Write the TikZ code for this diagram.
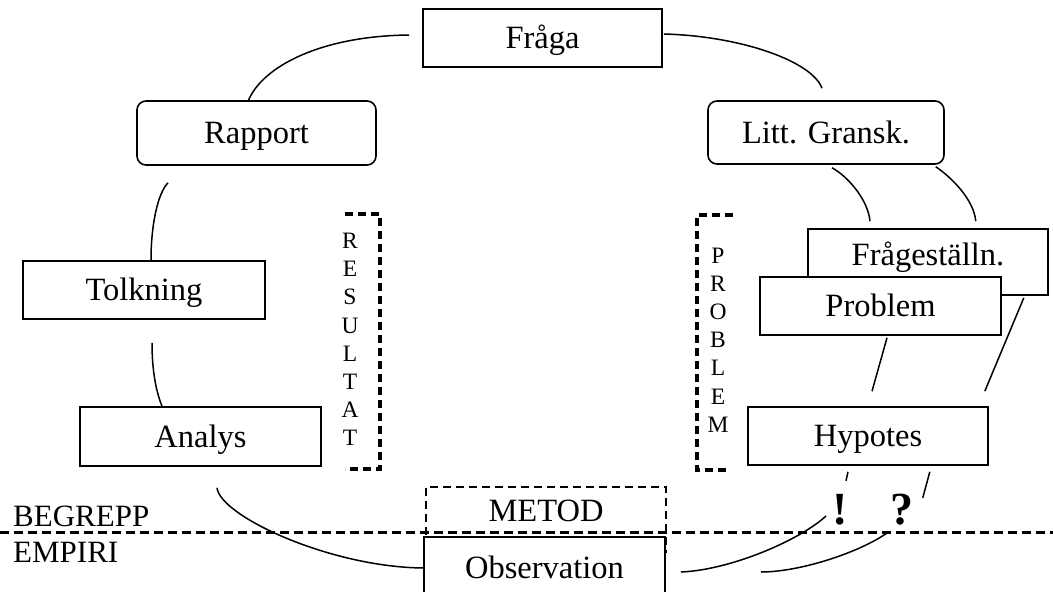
\documentclass[tikz,border=0pt]{standalone}
\usepackage{fontspec}
\setmainfont{Liberation Serif}
\begin{document}
\begin{tikzpicture}[x=1pt, y=-1pt,
  every node/.style={font=\fontsize{32.5}{36}\selectfont},
  ruta/.style={draw, line width=1.6pt, fill=white, inner sep=0pt, text height=24pt, text depth=3pt, minimum width=240pt, minimum height=58pt},
  rund/.style={ruta, rounded corners=9pt},
  streck/.style={line width=1.5pt},
  ram/.style={line width=3.4pt, dash pattern=on 8pt off 5pt},
  skiljelinje/.style={line width=2.8pt, dash pattern=on 9pt off 5pt},
  bokstav/.style={align=center, inner sep=0pt, font=\fontsize{23.5}{28.2}\selectfont},
  tecken/.style={inner sep=0pt, font=\bfseries\fontsize{46}{46}\selectfont}]
  \useasboundingbox (0,0) rectangle (1053,592);
  \clip (0,0) rectangle (1053,592);

  % Ramar
  \draw[ram] (345,214) -| (380,469) -- (345,469);
  \draw[ram] (733,215) -| (697,470) -- (730,470);
  \node[bokstav] (resultat) at (350,339.5) {R\\E\\S\\U\\L\\T\\A\\T};
  \node[bokstav] (problemord) at (718,340) {P\\R\\O\\B\\L\\E\\M};
  \node[draw, ram, line width=2.8pt, inner sep=0pt, minimum width=240pt, minimum height=65pt] (metod) at (546,519.5) {};
  \node[anchor=base, inner sep=0pt] (metodtxt) at (546,521) {METOD};

  % Begrepp / empiri
  \coordinate (skiljeV) at (0,532.7);
  \coordinate (skiljeH) at (1053,532.7);
  \draw[skiljelinje] (skiljeV) -- (skiljeH);
  \node[anchor=base west, inner sep=0pt, font=\fontsize{31}{33}\selectfont] (begrepp) at (13,526) {BEGREPP};
  \node[anchor=base west, inner sep=0pt, font=\fontsize{31}{33}\selectfont] (empiri) at (13,562) {EMPIRI};

  % Rutor
  \node[ruta, minimum width=239pt] (fraga) at (542.5,38) {Fråga};
  \node[rund, minimum width=239pt, minimum height=64pt] (rapport) at (256.5,133) {Rapport};
  \node[rund, minimum width=236pt, minimum height=63pt] (litt) at (826,132.5) {Litt. Gransk.};
  \node[ruta, minimum height=66pt, text depth=18pt] (fragest) at (928,262) {Frågeställn.};
  \node[ruta, minimum width=241pt] (problem) at (880.5,306) {Problem};
  \node[ruta] (hypotes) at (868,436) {Hypotes};
  \node[ruta, minimum width=242pt] (tolkning) at (144,290) {Tolkning};
  \node[ruta, minimum width=241pt, minimum height=59pt] (analys) at (200.5,436.5) {Analys};
  \node[ruta, minimum width=241pt, minimum height=62pt] (observation) at (544.5,568) {Observation};
  \node[tecken] (utrop) at (840,510) {!};
  \node[tecken] (fraget) at (902,510) {?};

  % Kopplingar
  \draw[streck] ([shift={(-13,-3)}]fraga.west) .. controls +(-90,1) and +(14,-33) .. ([xshift=-8pt]rapport.north);
  \draw[streck] ([shift={(1,-4)}]fraga.east) .. controls +(77,2) and +(-10,-27) .. ([shift={(-4,-12)}]litt.north);
  \draw[streck] ([shift={(-88.5,17)}]rapport.south) .. controls +(-10,10) and +(0,-36) .. ([xshift=7pt]tolkning.north);
  \draw[streck] ([shift={(8,23)}]tolkning.south) .. controls +(0,28) and +(-6,-15) .. ([xshift=-38.5pt]analys.north);
  \draw[streck] ([shift={(16.5,21)}]analys.south) .. controls +(3,28) and +(-94,-1) .. (observation.west);
  \draw[streck] ([shift={(6,3)}]litt.south) .. controls +(15,8) and +(-2,-22) .. ([shift={(-58,-7)}]fragest.north);
  \draw[streck] ([shift={(-9,2)}]litt.south east) .. controls +(15,10) and +(-2,-22) .. ([shift={(-73,-7)}]fragest.north east);
  \draw[streck] ([shift={(6.5,2)}]problem.south) -- ([shift={(4,-15)}]hypotes.north);
  \draw[streck] ([shift={(-25,2)}]fragest.south east) -- ([shift={(-4,-15)}]hypotes.north east);
  \draw[streck] ([shift={(-20,6)}]hypotes.south) -- +(-2,9);
  \draw[streck] ([shift={(-59,6)}]hypotes.south east) -- +(-7,26);
  \draw[streck] ([shift={(-14,6)}]utrop.center) .. controls +(-26,24) and +(50,-2) .. ([shift={(15,4)}]observation.east);
  \draw[streck] ([shift={(-15,23)}]fraget.center) .. controls +(-27,19) and +(40,0) .. ([shift={(95,4)}]observation.east);
\end{tikzpicture}
\end{document}
